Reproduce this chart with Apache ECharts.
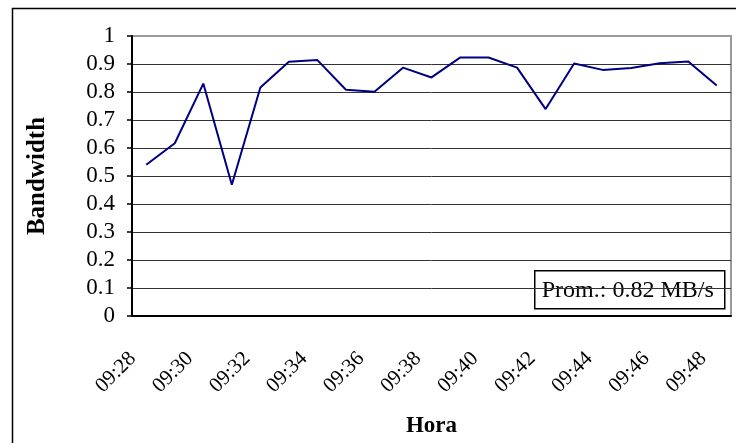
<!DOCTYPE html>
<html>
<head>
<meta charset="utf-8">
<script src="https://cdn.jsdelivr.net/npm/echarts@6/dist/echarts.min.js"></script>
<style>
  html, body { margin: 0; padding: 0; background: #ffffff; }
  #chart { width: 736px; height: 443px; }
</style>
</head>
<body>
<div id="chart"></div>
<script>
// Datos del gráfico
const horas = ['09:28', '09:29', '09:30', '09:31', '09:32', '09:33', '09:34', '09:35', '09:36', '09:37',
    '09:38', '09:39', '09:40', '09:41', '09:42', '09:43', '09:44', '09:45', '09:46', '09:47', '09:48'];
const bandwidth = [0.540, 0.617, 0.830, 0.469, 0.816, 0.908, 0.914, 0.808, 0.801, 0.887,
    0.852, 0.923, 0.923, 0.887, 0.739, 0.902, 0.879, 0.886, 0.903, 0.909, 0.823];
const promedio = 'Prom.: 0.82 MB/s';

const serif = '"Liberation Serif", "DejaVu Serif", serif';

// líneas de división: la última (1.0) en gris como el borde del área
const gridColors = ['#333', '#333', '#333', '#333', '#333', '#333', '#333', '#333', '#333', '#333', '#9a9a9a'];

const chart = echarts.init(document.getElementById('chart'));
chart.setOption({
    backgroundColor: '#ffffff',
    animation: false,
    grid: { left: 132, right: 5, top: 36, bottom: 125, show: true, borderColor: '#9a9a9a', borderWidth: 2 },
    xAxis: {
        type: 'category',
        data: horas,
        boundaryGap: true,
        name: 'Hora',
        nameLocation: 'middle',
        nameGap: 99,
        nameTextStyle: { fontFamily: serif, fontSize: 23, fontWeight: 'bold', color: '#000' },
        axisLine: { lineStyle: { color: '#000', width: 2 } },
        axisTick: { length: 5, lineStyle: { color: '#000', width: 1.5 } },
        axisLabel: {
            interval: 1,
            rotate: 45,
            margin: 26,
            padding: [0, 19, 0, 0],
            fontFamily: serif,
            fontSize: 21,
            color: '#000'
        },
        splitLine: { show: false }
    },
    yAxis: {
        type: 'value',
        min: 0,
        max: 1,
        interval: 0.1,
        name: 'Bandwidth',
        nameLocation: 'middle',
        nameGap: 82,
        nameRotate: 90,
        nameTextStyle: { fontFamily: serif, fontSize: 25, fontWeight: 'bold', color: '#000' },
        axisLine: { show: true, lineStyle: { color: '#000', width: 2 } },
        axisTick: { show: true, length: 5, lineStyle: { color: '#000', width: 1.5 } },
        axisLabel: {
            margin: 17,
            fontFamily: serif,
            fontSize: 23,
            color: '#000',
            formatter: v => String(Math.round(v * 10) / 10)
        },
        splitLine: { lineStyle: { color: gridColors, width: 1 } }
    },
    series: [{
        type: 'line',
        data: bandwidth,
        symbol: 'none',
        lineStyle: { color: '#000080', width: 2 },
        z: 5
    }],
    graphic: [
        {
            type: 'rect',
            left: 10,
            top: 6,
            shape: { width: 740, height: 450 },
            style: { fill: 'none', stroke: '#000', lineWidth: 1.5 },
            silent: true,
            z: 0
        },
        {
            type: 'group',
            left: 534,
            top: 270,
            z: 10,
            children: [
                {
                    type: 'rect',
                    shape: { width: 190, height: 38 },
                    style: { fill: '#fff', stroke: '#000', lineWidth: 1.5 }
                },
                {
                    type: 'text',
                    x: 7,
                    y: 20,
                    style: { text: promedio, font: '24px ' + serif, fill: '#000', textVerticalAlign: 'middle' }
                }
            ]
        }
    ]
});
</script>
</body>
</html>
